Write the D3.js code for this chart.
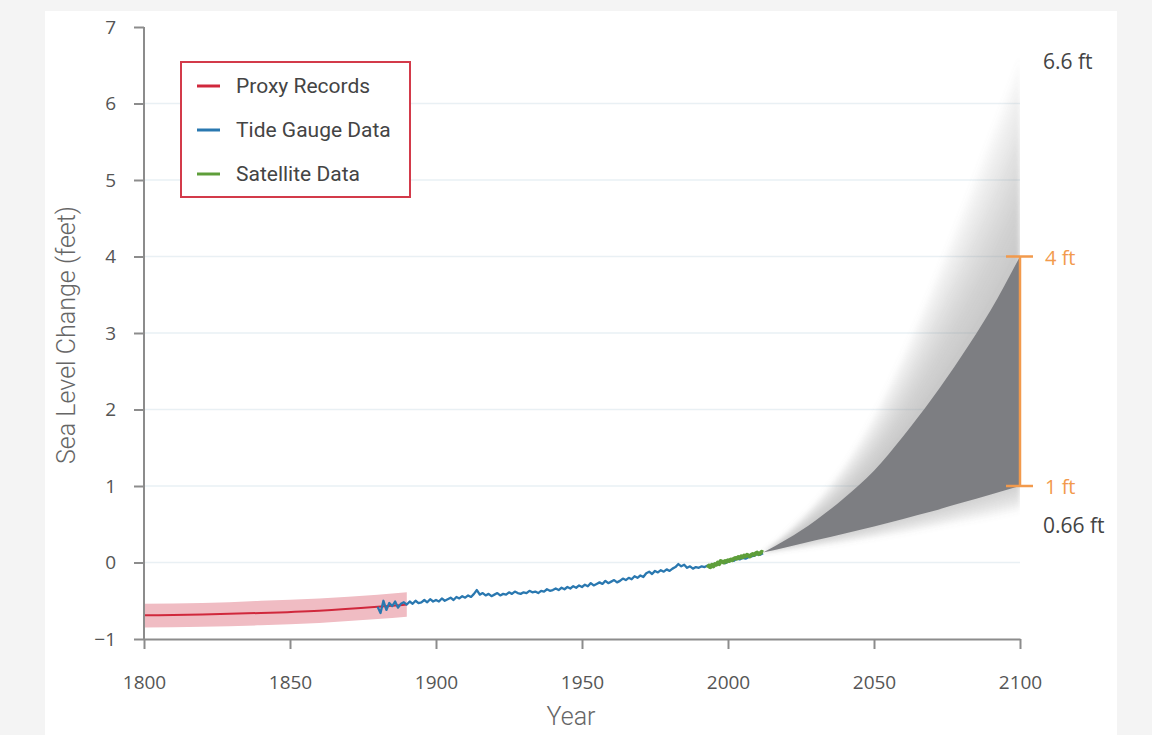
<!DOCTYPE html>
<html>
<head>
<meta charset="utf-8">
<script src="https://cdn.jsdelivr.net/npm/d3@7"></script>
<style>
  body { margin: 0; background: #f4f4f4; }
  #chart { position: absolute; left: 0; top: 0; }
</style>
</head>
<body>
<div id="chart"></div>
<script>
const width = 1152;
const height = 735;

// proxy record (1800-1890), centre line and uncertainty band
const proxyYears = [1800, 1820, 1840, 1860, 1880, 1890];
const proxyMid = [-0.69, -0.68, -0.66, -0.63, -0.58, -0.55];
const proxyLow = [-0.85, -0.84, -0.82, -0.79, -0.74, -0.71];
const proxyHigh = [-0.54, -0.53, -0.50, -0.47, -0.42, -0.39];

// tide gauge, yearly 1880-2012
const tideStart = 1880;
const tideValues = [
  -0.58, -0.66, -0.50, -0.62, -0.53, -0.57, -0.51, -0.59, -0.54, -0.52,
  -0.55, -0.51, -0.54, -0.50, -0.53, -0.52, -0.49, -0.52, -0.48, -0.51,
  -0.49, -0.51, -0.47, -0.50, -0.48, -0.46, -0.49, -0.45, -0.47, -0.44,
  -0.46, -0.43, -0.45, -0.41, -0.36, -0.42, -0.40, -0.43, -0.41, -0.44,
  -0.42, -0.40, -0.43, -0.41, -0.42, -0.39, -0.41, -0.38, -0.40, -0.41,
  -0.39, -0.40, -0.37, -0.39, -0.38, -0.40, -0.37, -0.38, -0.35, -0.37,
  -0.36, -0.34, -0.36, -0.33, -0.35, -0.32, -0.34, -0.31, -0.33, -0.30,
  -0.32, -0.29, -0.31, -0.27, -0.30, -0.28, -0.26, -0.28, -0.24, -0.27,
  -0.25, -0.23, -0.26, -0.24, -0.21, -0.23, -0.20, -0.22, -0.18, -0.20,
  -0.17, -0.19, -0.14, -0.12, -0.15, -0.11, -0.13, -0.10, -0.12, -0.09,
  -0.11, -0.08, -0.06, -0.02, -0.05, -0.03, -0.07, -0.05, -0.08, -0.06,
  -0.07, -0.05, -0.06, -0.04, -0.05, -0.02, -0.03, 0.00, 0.01, -0.01,
  0.01, 0.03, 0.02, 0.05, 0.04, 0.06, 0.05, 0.07, 0.08, 0.09, 0.11, 0.10, 0.12
];

// satellite altimetry, half-yearly 1993-2012
const satStart = 1993;
const satValues = [
  -0.07, -0.04, -0.06, -0.03, -0.05, -0.02, -0.03, 0.00, -0.02, 0.02,
  0.01, 0.00, 0.02, 0.01, 0.03, 0.02, 0.04, 0.03, 0.05, 0.06,
  0.05, 0.07, 0.06, 0.08, 0.07, 0.09, 0.08, 0.10, 0.09, 0.08,
  0.10, 0.11, 0.10, 0.12, 0.13, 0.11, 0.12, 0.14, 0.13
];

// projections to 2100
const projYears = [2012, 2020, 2030, 2040, 2050, 2060, 2070, 2080, 2090, 2100];
const projHigh = [0.13, 0.30, 0.55, 0.85, 1.20, 1.65, 2.15, 2.70, 3.30, 4.00];
const projLow = [0.13, 0.20, 0.29, 0.38, 0.47, 0.57, 0.67, 0.78, 0.89, 1.00];
const projMax = [0.13, 0.40, 0.80, 1.30, 1.95, 2.75, 3.65, 4.60, 5.60, 6.60];
const projMin = [0.13, 0.16, 0.20, 0.25, 0.31, 0.37, 0.44, 0.51, 0.58, 0.66];

const xTicks = [1800, 1850, 1900, 1950, 2000, 2050, 2100];
const yTicks = [-1, 0, 1, 2, 3, 4, 5, 6, 7];
const legendItems = ["Proxy Records", "Tide Gauge Data", "Satellite Data"];
const legendColors = ["#d0283c", "#2a78b0", "#5e9e3a"];

let svg = d3.select("#chart")
  .append("svg")
  .attr("width", width)
  .attr("height", height);

// white card
svg.append("rect")
  .attr("x", 45).attr("y", 11)
  .attr("width", 1072).attr("height", height - 11)
  .attr("fill", "#fff");

const x = d3.scaleLinear().domain([1800, 2100]).range([144, 1020]);
const y = d3.scaleLinear().domain([-1, 7]).range([639, 27]);

// faint gridlines
svg.append("g")
  .selectAll("line")
  .data(yTicks.filter(d => d >= 0 && d < 7))
  .join("line")
  .attr("x1", x(1800)).attr("x2", x(2100))
  .attr("y1", d => y(d)).attr("y2", d => y(d))
  .attr("stroke", "#e9f0f4")
  .attr("stroke-width", 1.5);

// clip for projections
svg.append("clipPath").attr("id", "plotclip")
  .append("rect")
  .attr("x", x(1800)).attr("y", 0)
  .attr("width", x(2100) - x(1800)).attr("height", y(-1));

const fadeFilter = svg.append("filter").attr("id", "soft")
  .attr("x", "-10%").attr("y", "-10%").attr("width", "120%").attr("height", "120%");
fadeFilter.append("feGaussianBlur").attr("stdDeviation", 2.5);

const projData = projYears.map((yr, i) => ({
  year: yr, lo: projLow[i], hi: projHigh[i], min: projMin[i], max: projMax[i]
}));

const proj = svg.append("g").attr("clip-path", "url(#plotclip)");
const fadeG = proj.append("g").attr("filter", "url(#soft)");

// fading outer envelope, built from stacked translucent layers
// (each layer starts inside the dark band so the blur leaves no gap)
const layers = 18;
for (let k = 1; k <= layers; k++) {
  const f = k / layers;
  fadeG.append("path")
    .datum(projData)
    .attr("d", d3.area()
      .x(d => x(d.year))
      .y0(d => y((d.hi + d.lo) / 2))
      .y1(d => y(d.hi + (d.max - d.hi) * f))
      .curve(d3.curveMonotoneX))
    .attr("fill", "#8a8a8a")
    .attr("fill-opacity", 0.035);
  fadeG.append("path")
    .datum(projData)
    .attr("d", d3.area()
      .x(d => x(d.year))
      .y0(d => y((d.hi + d.lo) / 2))
      .y1(d => y(d.lo + (d.min - d.lo) * f))
      .curve(d3.curveMonotoneX))
    .attr("fill", "#8a8a8a")
    .attr("fill-opacity", 0.022);
}

// likely range
proj.append("path")
  .datum(projData)
  .attr("d", d3.area()
    .x(d => x(d.year))
    .y0(d => y(d.lo))
    .y1(d => y(d.hi))
    .curve(d3.curveMonotoneX))
  .attr("fill", "#7d7e82");

// proxy band + line
const proxyData = proxyYears.map((yr, i) => ({ year: yr, mid: proxyMid[i], lo: proxyLow[i], hi: proxyHigh[i] }));
svg.append("path")
  .datum(proxyData)
  .attr("d", d3.area().x(d => x(d.year)).y0(d => y(d.lo)).y1(d => y(d.hi)).curve(d3.curveMonotoneX))
  .attr("fill", "#f0bcc3");
svg.append("path")
  .datum(proxyData)
  .attr("d", d3.line().x(d => x(d.year)).y(d => y(d.mid)).curve(d3.curveMonotoneX))
  .attr("fill", "none")
  .attr("stroke", legendColors[0])
  .attr("stroke-width", 2);

// tide gauge
svg.append("path")
  .datum(tideValues)
  .attr("d", d3.line().x((d, i) => x(tideStart + i)).y(d => y(d)))
  .attr("fill", "none")
  .attr("stroke", legendColors[1])
  .attr("stroke-width", 2.3)
  .attr("stroke-linejoin", "round");

// satellite
svg.append("path")
  .datum(satValues)
  .attr("d", d3.line().x((d, i) => x(satStart + i * 0.5)).y(d => y(d)))
  .attr("fill", "none")
  .attr("stroke", legendColors[2])
  .attr("stroke-width", 4)
  .attr("stroke-linejoin", "round");

// axes
const axisColor = "#8c8c8c";
const labelColor = "#555";

let yAxis = svg.append("g")
  .attr("transform", "translate(" + x(1800) + ",0)")
  .call(d3.axisLeft(y).tickValues(yTicks).tickSize(10).tickPadding(18).tickSizeOuter(0));
let xAxis = svg.append("g")
  .attr("transform", "translate(0," + y(-1) + ")")
  .call(d3.axisBottom(x).tickValues(xTicks).tickFormat(d3.format("d")).tickSize(10).tickPadding(27).tickSizeOuter(0));

[yAxis, xAxis].forEach(a => {
  a.select(".domain").attr("stroke", axisColor).attr("stroke-width", 2);
  a.selectAll(".tick line").attr("stroke", axisColor).attr("stroke-width", 2);
  a.selectAll(".tick text")
    .attr("fill", labelColor)
    .style("font-family", "'Open Sans', sans-serif")
    .style("font-size", "19px");
});
// the y axis line runs up to 7
yAxis.select(".domain").attr("d", "M0," + y(7) + "V" + y(-1));

svg.append("text")
  .attr("transform", "translate(75," + (y(3) + 2) + ") rotate(-90)")
  .attr("text-anchor", "middle")
  .attr("fill", "#666")
  .attr("textLength", 258)
  .attr("lengthAdjust", "spacingAndGlyphs")
  .style("font-family", "Roboto, sans-serif")
  .style("font-weight", 300)
  .style("font-size", "25px")
  .text("Sea Level Change (feet)");

svg.append("text")
  .attr("x", x(1950) - 11).attr("y", 725)
  .attr("text-anchor", "middle")
  .attr("fill", "#666")
  .style("font-family", "Roboto, sans-serif")
  .style("font-weight", 300)
  .style("font-size", "25px")
  .text("Year");

// legend
const legend = svg.append("g");
legend.append("rect")
  .attr("x", 181).attr("y", 62)
  .attr("width", 229).attr("height", 135)
  .attr("fill", "#fff")
  .attr("stroke", "#d33a4a")
  .attr("stroke-width", 2);
legendItems.forEach((name, i) => {
  const ly = 86 + i * 44;
  legend.append("line")
    .attr("x1", 197).attr("x2", 220)
    .attr("y1", ly).attr("y2", ly)
    .attr("stroke", legendColors[i])
    .attr("stroke-width", 3);
  legend.append("text")
    .attr("x", 236).attr("y", ly)
    .attr("dy", "0.35em")
    .attr("fill", "#444")
    .style("font-family", "Roboto, sans-serif")
    .style("font-size", "21px")
    .text(name);
});

// 1-4 ft bracket
const orange = "#f29a4c";
const br = svg.append("g").attr("stroke", orange).attr("stroke-width", 2.5);
br.append("line").attr("x1", x(2100)).attr("x2", x(2100)).attr("y1", y(4)).attr("y2", y(1));
br.append("line").attr("x1", x(2100) - 14).attr("x2", x(2100) + 13).attr("y1", y(4)).attr("y2", y(4));
br.append("line").attr("x1", x(2100) - 14).attr("x2", x(2100) + 13).attr("y1", y(1)).attr("y2", y(1));

const notes = [
  { v: 4, label: "4 ft", color: orange },
  { v: 1, label: "1 ft", color: orange },
  { v: 6.6, label: "6.6 ft", color: "#444" },
  { v: 0.66, label: "0.66 ft", color: "#444" }
];
svg.append("g")
  .selectAll("text")
  .data(notes)
  .join("text")
  .attr("x", d => d.color === orange ? 1045 : 1043)
  .attr("y", d => d.v === 6.6 ? 62 : d.v === 0.66 ? 526 : y(d.v) + 1)
  .attr("dy", "0.35em")
  .attr("fill", d => d.color)
  .style("font-family", "'Open Sans', sans-serif")
  .style("font-size", d => d.color === orange ? "20px" : "21px")
  .text(d => d.label);
</script>
</body>
</html>
